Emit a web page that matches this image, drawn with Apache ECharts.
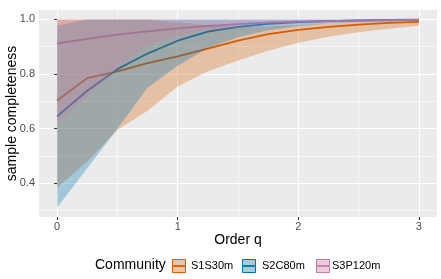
<!DOCTYPE html>
<html>
<head>
<meta charset="utf-8">
<script src="https://cdn.jsdelivr.net/npm/echarts@6/dist/echarts.min.js"></script>
<style>
  html, body { margin: 0; padding: 0; background: #fff; }
  #main { width: 441px; height: 279px; }
</style>
</head>
<body>
<div id="main"></div>
<script>
// order q
const qs = [0, 0.25, 0.5, 0.75, 1, 1.25, 1.5, 1.75, 2, 2.25, 2.5, 2.75, 3];

// S1S30m
const s1Est = [0.703, 0.785, 0.81, 0.84, 0.865, 0.893, 0.922, 0.946, 0.962, 0.973, 0.981, 0.987, 0.991];
const s1Lo  = [0.385, 0.48, 0.595, 0.666, 0.754, 0.81, 0.85, 0.885, 0.915, 0.937, 0.953, 0.966, 0.977];
const s1Hi  = [1.0, 1.0, 1.0, 1.0, 0.99, 0.98, 0.972, 0.975, 0.98, 0.985, 0.99, 0.994, 0.997];

// S2C80m
const s2Est = [0.645, 0.739, 0.818, 0.875, 0.922, 0.955, 0.973, 0.984, 0.99, 0.994, 0.996, 0.998, 0.999];
const s2Lo  = [0.311, 0.455, 0.60, 0.75, 0.83, 0.895, 0.935, 0.96, 0.975, 0.985, 0.99, 0.993, 0.995];
const s2Hi  = [0.978, 1.0, 1.0, 1.0, 1.0, 1.0, 1.0, 1.0, 1.0, 1.0, 1.0, 1.0, 1.0];

// S3P120m
const s3Est = [0.912, 0.929, 0.944, 0.956, 0.967, 0.976, 0.983, 0.988, 0.992, 0.994, 0.996, 0.997, 0.998];
const s3Lo  = [0.62, 0.72, 0.82, 0.905, 0.94, 0.96, 0.97, 0.978, 0.984, 0.988, 0.991, 0.993, 0.995];
const s3Hi  = [1.0, 1.0, 1.0, 1.0, 1.0, 1.0, 1.0, 1.0, 1.0, 1.0, 1.0, 1.0, 1.0];

const names = ['S1S30m', 'S2C80m', 'S3P120m'];
const xTicks = [0, 1, 2, 3];
const xMinor = [0.5, 1.5, 2.5];
const yTicks = [0.4, 0.6, 0.8, 1.0];
const yMinor = [0.3, 0.5, 0.7, 0.9];

const colors = ['#D55E00', '#0072B2', '#CC79A7'];
const fills = ['rgba(213,94,0,0.3)', 'rgba(0,114,178,0.3)', 'rgba(204,121,167,0.3)'];

const groups = [
  { est: s1Est, lo: s1Lo, hi: s1Hi },
  { est: s2Est, lo: s2Lo, hi: s2Hi },
  { est: s3Est, lo: s3Lo, hi: s3Hi },
];

const xMin = -0.15, xMax = 3.15;
const yMin = 0.2766, yMax = 1.0345;

const lineSeries = groups.map((g, k) => ({
  name: names[k],
  type: 'line',
  data: qs.map((q, i) => [q, g.est[i]]),
  symbol: 'none',
  lineStyle: { color: colors[k], width: 1.8 },
  z: 2,
  silent: true,
  animation: false,
}));

const bandSeries = groups.map((g, k) => ({
  name: names[k] + ' band',
  type: 'custom',
  data: qs.map((q, i) => [q, g.lo[i], g.hi[i]]),
  encode: { x: 0, y: [1, 2] },
  z: 3,
  silent: true,
  animation: false,
  renderItem(params, api) {
    if (params.dataIndex !== 0) return;
    const pts = [];
    qs.forEach((q, i) => pts.push(api.coord([q, g.lo[i]])));
    for (let i = qs.length - 1; i >= 0; i--) pts.push(api.coord([qs[i], g.hi[i]]));
    return { type: 'polygon', shape: { points: pts }, style: { fill: fills[k], stroke: null } };
  },
}));

// legend drawn by hand, ggplot style
const keyX = [172, 242, 316];
const labX = [191, 262, 332];
const legendItems = [
  { type: 'text', left: 95, top: 258, style: { text: 'Community', fontSize: 14, fontFamily: 'Liberation Sans, Arial, sans-serif', fill: '#000' } },
];
names.forEach((n, k) => {
  legendItems.push({ type: 'rect', shape: { x: keyX[k], y: 259, width: 14, height: 14 }, style: { fill: '#F2F2F2' } });
  legendItems.push({ type: 'rect', shape: { x: keyX[k] + 0.5, y: 259.5, width: 13, height: 13 }, style: { fill: fills[k], stroke: colors[k], lineWidth: 1 } });
  legendItems.push({ type: 'line', shape: { x1: keyX[k] + 0.5, y1: 266, x2: keyX[k] + 13.5, y2: 266 }, style: { stroke: colors[k], lineWidth: 1.8 } });
  legendItems.push({ type: 'text', left: labX[k], top: 260, style: { text: n, fontSize: 11, fontFamily: 'Liberation Sans, Arial, sans-serif', fill: '#000' } });
});

const chart = echarts.init(document.getElementById('main'));
chart.setOption({
  animation: false,
  textStyle: { fontFamily: 'Liberation Sans, Arial, sans-serif' },
  grid: {
    left: 39, top: 10, right: 4, bottom: 62,
    outerBoundsMode: 'none', containLabel: false,
    show: true, backgroundColor: '#EBEBEB', borderWidth: 0,
  },
  xAxis: [
    {
      type: 'value', min: xMin, max: xMax,
      name: 'Order q', nameLocation: 'middle', nameGap: 16, nameMoveOverlap: false,
      nameTextStyle: { fontSize: 14, color: '#000' },
      axisLine: { show: false },
      axisTick: { show: true, length: 3, lineStyle: { color: '#333' }, customValues: xTicks },
      axisLabel: { customValues: xTicks, fontSize: 11, color: '#4D4D4D', margin: 4 },
      splitLine: { show: true, lineStyle: { color: '#fff', width: 1.1 } },
    },
    {
      type: 'value', min: xMin, max: xMax, position: 'top',
      axisLine: { show: false },
      axisTick: { show: false, customValues: xMinor },
      axisLabel: { show: false, customValues: xMinor },
      splitLine: { show: true, lineStyle: { color: '#fff', width: 0.55 } },
    },
  ],
  yAxis: [
    {
      type: 'value', min: yMin, max: yMax,
      name: 'sample completeness', nameLocation: 'middle', nameGap: 20, nameMoveOverlap: false,
      nameTextStyle: { fontSize: 14, color: '#000' },
      axisLine: { show: false },
      axisTick: { show: true, length: 3, lineStyle: { color: '#333' }, customValues: yTicks },
      axisLabel: { customValues: yTicks, fontSize: 11, color: '#4D4D4D', margin: 4, formatter: v => v.toFixed(1) },
      splitLine: { show: true, lineStyle: { color: '#fff', width: 1.1 } },
    },
    {
      type: 'value', min: yMin, max: yMax, position: 'right',
      axisLine: { show: false },
      axisTick: { show: false, customValues: yMinor },
      axisLabel: { show: false, customValues: yMinor },
      splitLine: { show: true, lineStyle: { color: '#fff', width: 0.55 } },
    },
  ],
  graphic: legendItems,
  series: [...lineSeries, ...bandSeries],
});
</script>
</body>
</html>
